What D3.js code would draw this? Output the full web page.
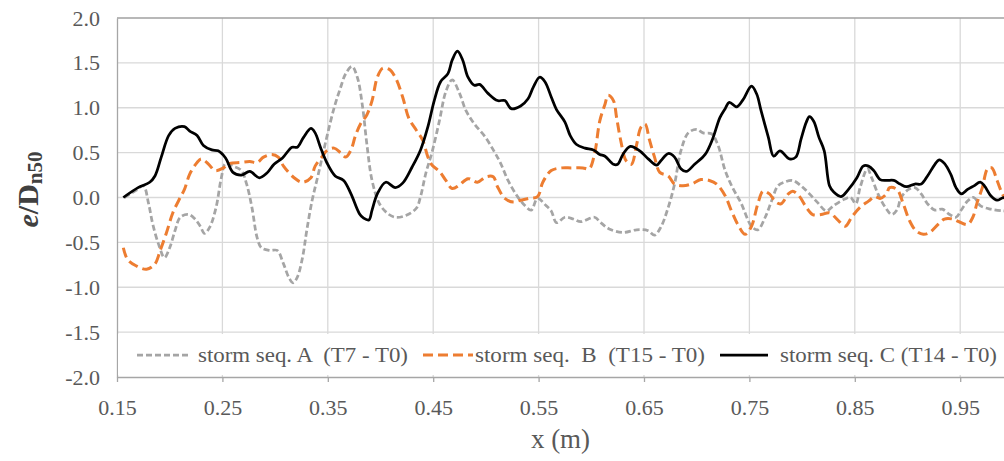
<!DOCTYPE html>
<html>
  <head>
    <meta charset="utf-8">
    <title>Erosion profiles</title>
    <script src="https://d3js.org/d3.v7.min.js"></script>
    <style>
      body { margin: 0; background: #fff; }
      text { font-family: "Liberation Serif", "Times New Roman", serif; }
    </style>
  </head>
  <body>
    <svg width="1004" height="461" id="mainsvg"></svg>
    <script>
        // x (m) / e/Dn50 pairs
        const seriesA = [[0.157,0.00],[0.168,0.08],[0.175,0.13],[0.180,-0.07],[0.184,-0.30],[0.190,-0.54],[0.195,-0.67],[0.200,-0.56],[0.205,-0.37],[0.210,-0.22],[0.218,-0.19],[0.224,-0.24],[0.229,-0.32],[0.233,-0.40],[0.238,-0.33],[0.244,-0.11],[0.249,0.22],[0.253,0.38],[0.260,0.35],[0.268,0.30],[0.273,0.15],[0.278,-0.11],[0.283,-0.45],[0.287,-0.56],[0.295,-0.59],[0.302,-0.59],[0.308,-0.74],[0.313,-0.89],[0.317,-0.95],[0.321,-0.89],[0.326,-0.67],[0.330,-0.37],[0.335,-0.04],[0.341,0.26],[0.349,0.67],[0.356,1.00],[0.362,1.22],[0.367,1.38],[0.373,1.46],[0.378,1.34],[0.383,1.01],[0.387,0.60],[0.392,0.19],[0.399,-0.07],[0.407,-0.18],[0.414,-0.22],[0.424,-0.20],[0.434,-0.12],[0.438,0.01],[0.443,0.27],[0.449,0.51],[0.456,0.86],[0.462,1.18],[0.468,1.31],[0.475,1.16],[0.481,0.97],[0.489,0.82],[0.499,0.68],[0.508,0.51],[0.514,0.38],[0.521,0.19],[0.530,0.01],[0.537,-0.09],[0.543,-0.14],[0.549,-0.01],[0.557,-0.09],[0.562,-0.15],[0.567,-0.28],[0.575,-0.22],[0.583,-0.24],[0.590,-0.27],[0.603,-0.22],[0.609,-0.28],[0.617,-0.35],[0.630,-0.39],[0.643,-0.36],[0.654,-0.37],[0.660,-0.42],[0.666,-0.33],[0.673,-0.11],[0.679,0.15],[0.685,0.52],[0.692,0.72],[0.700,0.76],[0.706,0.72],[0.714,0.71],[0.720,0.59],[0.727,0.30],[0.734,0.11],[0.742,-0.06],[0.752,-0.32],[0.758,-0.36],[0.765,-0.22],[0.771,-0.04],[0.777,0.13],[0.783,0.17],[0.791,0.19],[0.799,0.13],[0.807,0.04],[0.815,-0.06],[0.823,-0.15],[0.830,-0.09],[0.840,-0.02],[0.846,0.00],[0.851,-0.07],[0.855,0.11],[0.862,0.32],[0.866,0.22],[0.872,0.04],[0.879,-0.11],[0.885,-0.19],[0.890,-0.14],[0.894,0.00],[0.901,0.09],[0.907,0.11],[0.913,0.04],[0.919,-0.07],[0.926,-0.14],[0.933,-0.13],[0.940,-0.19],[0.946,-0.22],[0.951,-0.14],[0.957,-0.04],[0.963,0.00],[0.969,-0.09],[0.979,-0.13],[0.991,-0.15],[0.995,-0.15]];

        const seriesB = [[0.156,-0.56],[0.160,-0.69],[0.168,-0.76],[0.178,-0.80],[0.186,-0.74],[0.191,-0.59],[0.197,-0.39],[0.203,-0.17],[0.210,0.00],[0.214,0.09],[0.219,0.26],[0.226,0.39],[0.230,0.43],[0.237,0.37],[0.243,0.30],[0.251,0.33],[0.257,0.38],[0.267,0.39],[0.276,0.40],[0.283,0.39],[0.289,0.45],[0.297,0.48],[0.303,0.45],[0.308,0.35],[0.318,0.22],[0.326,0.17],[0.334,0.22],[0.338,0.35],[0.345,0.46],[0.349,0.52],[0.356,0.55],[0.362,0.50],[0.367,0.45],[0.372,0.53],[0.376,0.68],[0.381,0.82],[0.387,0.92],[0.392,1.08],[0.397,1.34],[0.402,1.44],[0.408,1.43],[0.414,1.34],[0.421,1.12],[0.427,0.88],[0.434,0.75],[0.440,0.64],[0.445,0.45],[0.449,0.36],[0.456,0.29],[0.462,0.19],[0.468,0.10],[0.475,0.14],[0.483,0.21],[0.492,0.17],[0.500,0.23],[0.507,0.23],[0.511,0.12],[0.518,-0.01],[0.526,-0.05],[0.533,-0.03],[0.541,-0.01],[0.549,0.01],[0.554,0.17],[0.562,0.30],[0.572,0.33],[0.581,0.33],[0.592,0.33],[0.598,0.32],[0.603,0.48],[0.608,0.85],[0.613,1.04],[0.616,1.14],[0.621,1.08],[0.624,0.89],[0.628,0.63],[0.633,0.41],[0.638,0.37],[0.643,0.59],[0.647,0.78],[0.651,0.82],[0.655,0.65],[0.660,0.45],[0.665,0.28],[0.673,0.24],[0.679,0.15],[0.687,0.13],[0.695,0.15],[0.704,0.20],[0.712,0.19],[0.719,0.15],[0.727,0.02],[0.733,-0.15],[0.739,-0.30],[0.746,-0.41],[0.752,-0.32],[0.758,-0.07],[0.763,0.07],[0.769,0.04],[0.775,-0.05],[0.780,-0.07],[0.787,0.04],[0.791,0.07],[0.797,0.02],[0.804,-0.11],[0.810,-0.19],[0.818,-0.19],[0.826,-0.17],[0.833,-0.24],[0.841,-0.32],[0.847,-0.22],[0.855,-0.11],[0.863,-0.04],[0.869,0.01],[0.874,-0.01],[0.880,0.04],[0.883,0.11],[0.890,0.09],[0.896,-0.07],[0.902,-0.26],[0.908,-0.37],[0.915,-0.41],[0.921,-0.39],[0.929,-0.30],[0.935,-0.24],[0.943,-0.24],[0.949,-0.27],[0.957,-0.30],[0.962,-0.22],[0.966,-0.06],[0.971,0.11],[0.976,0.32],[0.980,0.33],[0.985,0.19],[0.990,0.04],[0.995,-0.06]];

        const seriesC = [[0.156,0.00],[0.170,0.11],[0.181,0.17],[0.186,0.24],[0.192,0.45],[0.199,0.69],[0.205,0.77],[0.214,0.79],[0.219,0.74],[0.226,0.69],[0.232,0.58],[0.240,0.53],[0.246,0.52],[0.253,0.44],[0.260,0.28],[0.268,0.25],[0.276,0.29],[0.285,0.22],[0.292,0.27],[0.299,0.37],[0.307,0.44],[0.316,0.56],[0.321,0.56],[0.327,0.67],[0.334,0.77],[0.338,0.72],[0.343,0.56],[0.349,0.39],[0.357,0.24],[0.365,0.19],[0.372,0.04],[0.380,-0.18],[0.384,-0.23],[0.389,-0.25],[0.392,-0.14],[0.397,0.04],[0.405,0.17],[0.414,0.11],[0.421,0.16],[0.430,0.34],[0.438,0.53],[0.445,0.79],[0.451,1.08],[0.457,1.29],[0.464,1.38],[0.468,1.53],[0.473,1.63],[0.478,1.53],[0.483,1.34],[0.489,1.25],[0.494,1.26],[0.502,1.16],[0.511,1.08],[0.518,1.08],[0.524,0.99],[0.533,1.02],[0.540,1.10],[0.545,1.23],[0.551,1.34],[0.556,1.29],[0.562,1.12],[0.567,0.98],[0.575,0.84],[0.580,0.69],[0.586,0.59],[0.594,0.55],[0.602,0.53],[0.608,0.48],[0.613,0.46],[0.621,0.37],[0.625,0.37],[0.630,0.48],[0.637,0.57],[0.646,0.52],[0.654,0.43],[0.662,0.36],[0.666,0.41],[0.673,0.49],[0.679,0.45],[0.685,0.32],[0.690,0.29],[0.698,0.37],[0.708,0.48],[0.715,0.65],[0.722,0.89],[0.727,0.99],[0.731,1.06],[0.738,1.01],[0.744,1.09],[0.752,1.24],[0.757,1.15],[0.761,0.97],[0.768,0.67],[0.773,0.46],[0.779,0.52],[0.788,0.43],[0.794,0.45],[0.799,0.65],[0.804,0.84],[0.807,0.90],[0.811,0.85],[0.816,0.67],[0.821,0.52],[0.826,0.13],[0.830,0.06],[0.837,0.01],[0.844,0.09],[0.852,0.22],[0.858,0.35],[0.863,0.35],[0.868,0.30],[0.874,0.20],[0.880,0.19],[0.887,0.19],[0.893,0.15],[0.899,0.12],[0.907,0.15],[0.913,0.15],[0.919,0.24],[0.926,0.37],[0.930,0.42],[0.935,0.38],[0.941,0.26],[0.946,0.11],[0.951,0.04],[0.957,0.09],[0.963,0.13],[0.969,0.17],[0.973,0.13],[0.979,0.02],[0.985,-0.03],[0.991,0.00],[0.995,-0.02]];

        const xTicks = [0.15, 0.25, 0.35, 0.45, 0.55, 0.65, 0.75, 0.85, 0.95];
        const yTicks = [-2.0, -1.5, -1.0, -0.5, 0.0, 0.5, 1.0, 1.5, 2.0];
        const legendNames = ['storm seq. A  (T7 - T0)', 'storm seq.  B  (T15 - T0)', 'storm seq. C (T14 - T0)'];

        const svg = d3.select('#mainsvg');
        const width = +svg.attr('width');
        const height = +svg.attr('height');
        const margin = {top: 18, left: 117, bottom: 84};

        const xScale = d3.scaleLinear()
        .domain([0.15, 1.0])
        .range([margin.left, margin.left + 0.85 * 1054]);

        const yScale = d3.scaleLinear()
        .domain([-2, 2])
        .range([height - margin.bottom, margin.top]);

        const g = svg.append('g').attr('id', 'maingroup');

        // grid
        g.append('g').selectAll('line').data(xTicks.slice(1)).join('line')
        .attr('x1', d => xScale(d)).attr('x2', d => xScale(d))
        .attr('y1', yScale(2)).attr('y2', yScale(-2))
        .attr('stroke', '#d9d9d9').attr('stroke-width', 1.3);
        g.append('g').selectAll('line').data(yTicks.slice(1, -1)).join('line')
        .attr('x1', margin.left).attr('x2', width)
        .attr('y1', d => yScale(d)).attr('y2', d => yScale(d))
        .attr('stroke', '#d9d9d9').attr('stroke-width', 1.3);
        g.append('line')
        .attr('x1', margin.left).attr('x2', width)
        .attr('y1', yScale(2)).attr('y2', yScale(2))
        .attr('stroke', '#a0a0a0').attr('stroke-width', 1.3);

        // axes (plain hyphen for negatives, as in the original)
        const xAxis = d3.axisBottom(xScale).tickValues(xTicks)
        .tickFormat(d => d.toFixed(2)).tickSize(5).tickSizeOuter(0).tickPadding(17);
        const xg = g.append('g').attr('transform', `translate(0, ${yScale(-2)})`).call(xAxis);
        xg.select('.domain').attr('stroke', '#a6a6a6').attr('stroke-width', 1.3);
        xg.selectAll('.tick line').attr('stroke', '#a6a6a6').attr('stroke-width', 1.3);

        const yAxis = d3.axisLeft(yScale).tickValues(yTicks)
        .tickFormat(d => d.toFixed(1)).tickSize(0).tickPadding(17);
        const yg = g.append('g').attr('transform', `translate(${margin.left}, 0)`).call(yAxis);
        yg.select('.domain').attr('stroke', '#a6a6a6').attr('stroke-width', 1.3);

        svg.selectAll('.tick text').attr('font-size', '22px').attr('fill', '#595959')
        .attr('font-family', '"Liberation Serif", "Times New Roman", serif');

        // series
        const line = d3.line()
        .x(d => xScale(d[0])).y(d => yScale(d[1]))
        .curve(d3.curveCatmullRom.alpha(0.5));

        const styles = [
          {data: seriesA, color: '#a5a5a5', width: 2.75, dash: '6,3'},
          {data: seriesB, color: '#ed7d31', width: 3, dash: '10,5'},
          {data: seriesC, color: '#000000', width: 2.75, dash: null}
        ];

        g.append('g').selectAll('path').data(styles).join('path')
        .attr('d', d => line(d.data))
        .attr('fill', 'none')
        .attr('stroke', d => d.color)
        .attr('stroke-width', d => d.width)
        .attr('stroke-dasharray', d => d.dash)
        .attr('stroke-linejoin', 'round');

        // legend
        const legendY = 355;
        g.append('rect').attr('x', margin.left + 1).attr('y', 334)
        .attr('width', width - margin.left).attr('height', 41).attr('fill', '#fff');
        const legendItems = [
          {x0: 137, x1: 188, tx: 198, tw: 210},
          {x0: 423, x1: 473, tx: 475, tw: 230},
          {x0: 720, x1: 768, tx: 780, tw: 217}
        ];
        const lg = g.append('g').selectAll('g').data(legendItems).join('g');
        lg.append('line')
        .attr('x1', d => d.x0).attr('x2', d => d.x1)
        .attr('y1', legendY).attr('y2', legendY)
        .attr('stroke', (d, i) => styles[i].color)
        .attr('stroke-width', (d, i) => styles[i].width)
        .attr('stroke-dasharray', (d, i) => styles[i].dash);
        lg.append('text')
        .attr('x', d => d.tx).attr('y', legendY + 7)
        .attr('xml:space', 'preserve').style('white-space', 'pre')
        .attr('font-size', '21px').attr('fill', '#595959')
        .attr('textLength', d => d.tw).attr('lengthAdjust', 'spacingAndGlyphs')
        .text((d, i) => legendNames[i]);

        // axis titles
        g.append('text').text('x (m)')
        .attr('x', (xScale(0.15) + width) / 2).attr('y', 448)
        .attr('text-anchor', 'middle').attr('font-size', '27px').attr('fill', '#595959');

        const yt = g.append('text')
        .attr('transform', `translate(38, ${yScale(0) - 8}) rotate(-90)`)
        .attr('text-anchor', 'middle').attr('font-size', '30px')
        .attr('font-weight', 'bold').attr('fill', '#404040');
        yt.append('tspan').attr('font-style', 'italic').text('e');
        yt.append('tspan').text('/D');
        yt.append('tspan').attr('font-size', '21px').attr('dy', 4).text('n50');
    </script>
  </body>
</html>
